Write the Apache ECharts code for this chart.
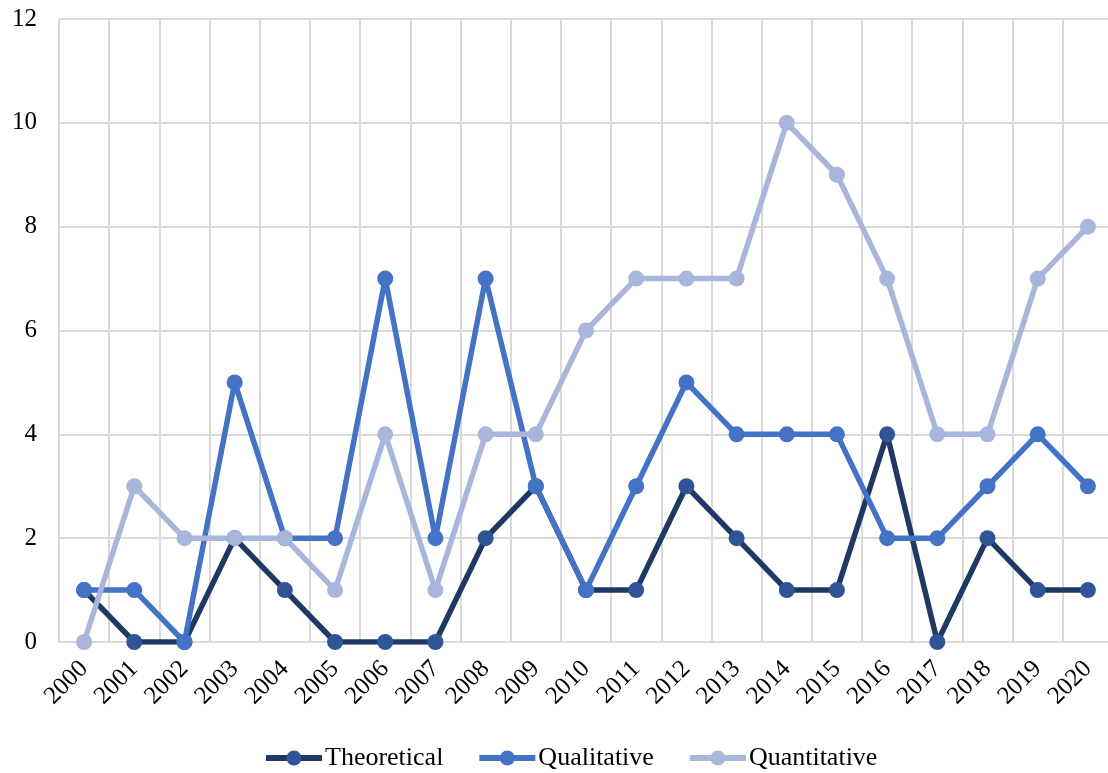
<!DOCTYPE html>
<html>
<head>
<meta charset="utf-8">
<script src="https://cdn.jsdelivr.net/npm/echarts@6/dist/echarts.min.js"></script>
<style>
  html, body { margin: 0; padding: 0; background: #fff; }
  #chart { width: 1108px; height: 773px; }
</style>
</head>
<body>
<div id="chart"></div>
<script>
// Publications per year by research approach
const years = ['2000','2001','2002','2003','2004','2005','2006','2007','2008','2009','2010',
               '2011','2012','2013','2014','2015','2016','2017','2018','2019','2020'];
const theoretical  = [1, 0, 0, 2, 1, 0, 0, 0, 2, 3, 1, 1, 3, 2, 1, 1, 4, 0, 2, 1, 1];
const qualitative  = [1, 1, 0, 5, 2, 2, 7, 2, 7, 3, 1, 3, 5, 4, 4, 4, 2, 2, 3, 4, 3];
const quantitative = [0, 3, 2, 2, 2, 1, 4, 1, 4, 4, 6, 7, 7, 7, 10, 9, 7, 4, 4, 7, 8];

const FONT = '"Liberation Serif", "Times New Roman", serif';
const GRID = '#d9d9d9';

function lineSeries(name, data, lineColor, markerColor) {
  return {
    name: name,
    type: 'line',
    data: data,
    symbol: 'circle',
    symbolSize: 16,
    showAllSymbol: true,
    lineStyle: { width: 5.5, color: lineColor },
    itemStyle: { color: markerColor, borderWidth: 0 },
    emphasis: { disabled: true },
    animation: false
  };
}

const chart = echarts.init(document.getElementById('chart'), null, { renderer: 'canvas' });
chart.setOption({
  backgroundColor: '#ffffff',
  textStyle: { fontFamily: FONT },
  // plot area runs slightly past the right edge of the canvas
  grid: {
    left: 59, top: 19, width: 1054, height: 623,
    containLabel: false,
    outerBoundsMode: 'none'
  },
  legend: {
    top: 745,
    left: 263,
    padding: 0,
    itemWidth: 56,
    itemHeight: 19,
    itemGap: 33,
    lineStyle: { width: 6 },
    textStyle: { fontFamily: FONT, fontSize: 26, color: '#000', padding: [0, 0, 0, -2] },
    data: ['Theoretical', 'Qualitative', 'Quantitative']
  },
  xAxis: {
    type: 'category',
    data: years,
    boundaryGap: true,
    axisLine: { show: true, lineStyle: { color: GRID, width: 2 } },
    axisTick: { show: false },
    splitLine: { show: true, lineStyle: { color: GRID, width: 2 } },
    axisLabel: {
      rotate: 45,
      interval: 0,
      margin: 23,
      fontFamily: FONT,
      fontSize: 25,
      color: '#000'
    }
  },
  yAxis: {
    type: 'value',
    min: 0,
    max: 12,
    interval: 2,
    axisLine: { show: false },
    axisTick: { show: false },
    splitLine: { show: true, lineStyle: { color: GRID, width: 2 } },
    axisLabel: { margin: 22, fontFamily: FONT, fontSize: 25, color: '#000' }
  },
  series: [
    lineSeries('Theoretical', theoretical, '#203864', '#2f5597'),
    lineSeries('Qualitative', qualitative, '#4472c4', '#4472c4'),
    lineSeries('Quantitative', quantitative, '#a9b6dc', '#a9b6dc')
  ]
});
</script>
</body>
</html>
